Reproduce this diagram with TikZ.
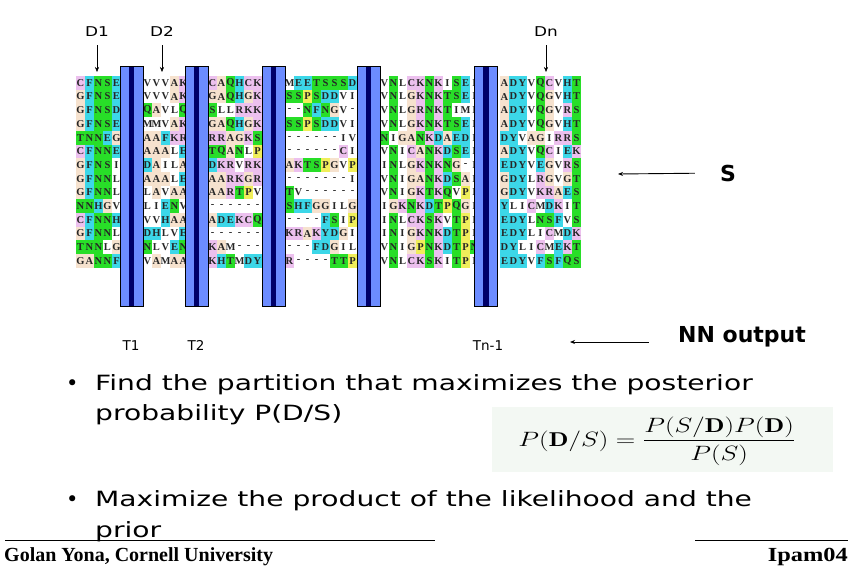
\documentclass[tikz,border=0pt]{standalone}
\usepackage{fontspec}
\usepackage{amsmath}
\usepackage{graphicx}
\usetikzlibrary{positioning}
\usetikzlibrary{arrows.meta}
\newfontfamily\slidefont{DejaVu Sans}
\newfontfamily\footfont{Liberation Serif}
\definecolor{rescyan}{RGB}{60,215,232}
\definecolor{resgreen}{RGB}{40,222,40}
\definecolor{respink}{RGB}{236,192,238}
\definecolor{resbeige}{RGB}{246,226,206}
\definecolor{resyellow}{RGB}{240,238,90}
\definecolor{barblue}{RGB}{108,140,255}
\definecolor{barnavy}{RGB}{0,0,105}
\definecolor{formbg}{RGB}{243,248,243}

% residue -> background colour
\newcommand\setres[2]{\foreach \r in {#1}{\expandafter\xdef\csname rc\r\endcsname{#2}}}
\setres{D,E,Y,H,F,W}{rescyan}
\setres{N,Q,S,T}{resgreen}
\setres{K,R,C}{respink}
\setres{G,A}{resbeige}
\setres{P}{resyellow}
\setres{V,I,L,M,-}{white}

% alignment grid
\def\segx{{76,143,208,285,380,500}}
\def\cellw{9}
\def\cellh{13.7}
\def\rowy{76}

% stretched slide text
\newcommand\wide[2]{\scalebox{#1}[1]{#2}}

\newcommand\alncell[1]{%
  \pgfmathsetmacro\cx{\segx[\alnseg]+\alncol*\cellw}%
  \pgfmathsetmacro\cy{\rowy+\alnr*\cellh}%
  \edef\alnclr{\csname rc#1\endcsname}%
  \fill[fill=\alnclr] (\cx,\cy) rectangle ++(\cellw,\cellh);
  \node[res] at (\cx+\cellw/2,\cy+\cellh/2) {#1};}
\def\alnstep#1{%
  \ifx#1\relax\else
    \ifx#1|%
      \pgfmathtruncatemacro\alnseg{\alnseg+1}\def\alncol{0}%
    \else
      \alncell{#1}%
      \pgfmathtruncatemacro\alncol{\alncol+1}%
    \fi
    \expandafter\alnstep
  \fi}
\newcommand\alnrow[2]{\def\alnr{#1}\def\alnseg{0}\def\alncol{0}%
  \expandafter\alnstep#2\relax}

\begin{document}
\begin{tikzpicture}[x=1pt,y=-1pt,
  res/.style={inner sep=0pt,font=\footfont\bfseries\fontsize{10.5}{10.5}\selectfont,text=black!85},
  nnbar/.style={draw=black,line width=0.6pt,fill=barblue,minimum width=23pt,minimum height=240pt,inner sep=0pt,
    path picture={\fill[barnavy] ([xshift=-2.6pt]path picture bounding box.north) rectangle ([xshift=2.6pt]path picture bounding box.south);}},
  lbl/.style={font=\slidefont\fontsize{13.5}{14}\selectfont,inner sep=1pt,anchor=base},
  big/.style={font=\slidefont\bfseries\fontsize{22}{24}\selectfont,inner sep=1pt},
  bullet/.style={font=\slidefont\fontsize{21}{24}\selectfont,anchor=base west,inner sep=0pt},
  foot/.style={font=\footfont\bfseries\fontsize{20}{22}\selectfont,inner sep=0pt},
  >={Stealth[length=5pt,width=4pt]}]

\useasboundingbox (0,0) rectangle (855,570);

%---------------------------------------
% Multiple alignment
%---------------------------------------
\foreach \r/\s in {
  0/CFNSE|VVVAK|CAQHCK|MEETSSSD|VNLCKNKISEI|ADYVQCVHT,
  1/GFNSE|VVVAK|GAQHGK|SSPSDDVI|VNLGKNKTSEI|ADYVQGVHT,
  2/GFNSD|QAVLQ|SLLRKK|--NFNGV-|VNLGRNKTIMI|ADYVQGVRS,
  3/GFNSE|MMVAK|GAQHGK|SSPSDDVI|VNLGKNKTSEI|ADYVQGVHT,
  4/TNNEG|AAFKR|RRAGKS|------IV|NIGANKDAEDI|DYVAGIRRS,
  5/CFNNE|AAALE|TQANLP|------CI|VNICANKDSEI|ADYVQCIEK,
  6/GFNSI|DAILA|DKRVRK|AKTSPGVP|INLGKNKNG-I|EDYVEGVRS,
  7/GFNNL|AAALE|AARKGR|-------I|VNIGANKDSAI|GDYLRGVGT,
  8/GFNNL|LAVAA|AARTPV|TV------|VNIGKTKQVPI|GDYVKRAES,
  9/NNHGV|LIENV|------|SHFGGILG|IGKNKDTPQGI|YLICMDKIT,
  10/CFNNH|VVHAA|ADEKCQ|----FSIP|INLCKSKVTPI|EDYLNSFVS,
  11/GFNNL|DHLVE|------|KRAKYDGI|INIGKNKDTPI|EDYLICMDK,
  12/TNNLG|NLVEN|KAM---|---FDGIL|VNIGPNKDTPN|DYLICMEKT,
  13/GANNF|VAMAA|KHTMDY|R----TTP|VNLCKSKITPI|EDYVFSFQS}
  {\alnrow{\r}{\s}}

%---------------------------------------
% NN output bars
%---------------------------------------
\node[nnbar] (b1) at (131.5,186) {};
\node[nnbar] (b2) at (196.5,186) {};
\node[nnbar] (b3) at (273.5,186) {};
\node[nnbar] (b4) at (368.5,186) {};
\node[nnbar] (b5) at (486,186) {};

% Domain labels
\node[lbl] (d1) at (97,36) {\wide{1.25}{D1}};
\node[lbl] (d2) at (162,36) {\wide{1.25}{D2}};
\node[lbl] (dn) at (546,36) {\wide{1.25}{Dn}};
\coordinate (d1tip) at (d1.south |- 0,72);
\coordinate (d2tip) at (d2.south |- 0,72);
\coordinate (dntip) at (dn.south |- 0,72);
\draw[->,shorten <=8pt] (d1.south) -- (d1tip);
\draw[->,shorten <=8pt] (d2.south) -- (d2tip);
\draw[->,shorten <=8pt] (dn.south) -- (dntip);

% Transition labels
\node[lbl] (t1) at (131,350) {T1};
\node[lbl] (t2) at (196,350) {T2};
\node[lbl] (tn) at (488,350) {Tn-1};

% S and NN output
\node[big] (s) at (728,173) {S};
\coordinate (stip) at (618,174);
\draw[->,line width=0.9pt,shorten <=24pt] (s.west) -- (stip);

\node[big] (nn) at (742,337) {NN output};
\coordinate (nntip) at (570,342);
\draw[->,line width=0.9pt,shorten <=28pt] (nn.west |- nntip) -- (nntip);

%---------------------------------------
% Bullets
%---------------------------------------
\node[bullet] (p1) at (95,390) {\wide{1.34}{Find the partition that maximizes the posterior}};
\node[bullet] (p1b) at (95,420) {\wide{1.34}{probability P(D/S)}};
\node[bullet] (p2) at (95,506) {\wide{1.34}{Maximize the product of the likelihood and the}};
\node[bullet] (p2b) at (95,537) {\wide{1.34}{prior}};
\node[bullet] at (66,390) {\textbullet};
\node[bullet] at (66,506) {\textbullet};

% Formula
\fill[formbg] (492,407) rectangle (833,472);
\node (bayes) at (657,441) {\fontsize{20}{24}\selectfont
  \wide{1.3}{$P(\mathbf{D}/S) = \dfrac{P(S/\mathbf{D})P(\mathbf{D})}{P(S)}$}};

%---------------------------------------
% Footer
%---------------------------------------
\draw[line width=0.7pt] (5,540) -- (435,540);
\draw[line width=0.7pt] (695,540) -- (848,540);
\node[foot,anchor=base west] (au) at (4,561) {Golan Yona, Cornell University};
\node[foot,anchor=base east] (ip) at (848,561) {\wide{1.22}{Ipam04}};

\end{tikzpicture}
\end{document}
